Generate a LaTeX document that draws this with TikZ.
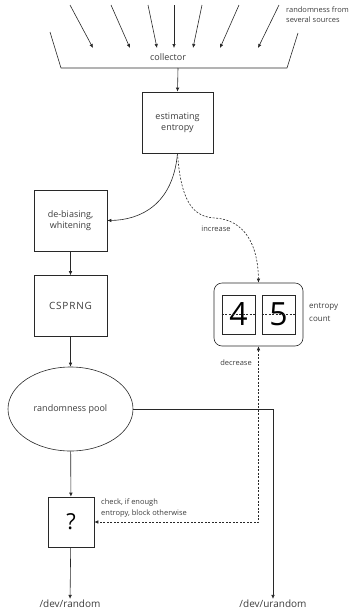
\documentclass[tikz,border=0pt]{standalone}
\usepackage{fontspec}
\setmainfont{Open Sans}
\usepackage{xcolor}
\usetikzlibrary{shapes.geometric, arrows.meta, positioning, calc}
\definecolor{inkgray}{RGB}{40, 40, 40}
\definecolor{textgray}{RGB}{60, 60, 60}

\begin{document}
\begin{tikzpicture}[
    x=1pt, y=-1pt,
    every node/.style={text=textgray, font=\fontsize{9}{11}\selectfont},
    block/.style={draw=inkgray, line width=0.6pt, align=center, inner sep=0pt},
    flow/.style={draw=inkgray, line width=0.6pt, -{Latex[length=4pt, width=3.5pt]}},
    dflow/.style={flow, dashed, dash pattern=on 2pt off 1.5pt},
    note/.style={font=\fontsize{7.5}{9.5}\selectfont, align=left, inner sep=0pt},
    digit/.style={block, minimum width=33, minimum height=39, font=\fontsize{32}{32}\selectfont, text=black}
]
    \useasboundingbox (0,0) rectangle (360,611);

    % sources into the collector
    \draw[inkgray, line width=0.6pt] (50,32) -- (61,68) -- (287,68) -- (298,33);
    \coordinate (coll) at (178,68);
    \node (collector) at (168,57) {collector};
    \foreach \sx/\ex [count=\i] in {70/93, 111/130, 148/157, 174/174, 202/193, 239/220, 279/258} {
        \coordinate (src\i) at (\sx,5);
        \coordinate (tip\i) at (\ex,48);
        \draw[flow] (src\i) -- (tip\i);
    }
    \node[note, anchor=north west] (sources) at (286,7) {randomness from\\several sources};

    % main chain
    \node[block, minimum width=71, minimum height=61] (estimate) at (177.5,122.5) {estimating\\entropy};
    \node[block, minimum width=73, minimum height=61] (debias) at (70.5,220.5) {de-biasing,\\whitening};
    \node[block, minimum width=73, minimum height=61, font=\fontsize{10}{12}\selectfont\addfontfeature{LetterSpace=8}] (csprng) at (70.5,306) {CSPRNG};
    \node[draw=inkgray, line width=0.6pt, ellipse, minimum width=125, minimum height=84, inner sep=0pt] (pool) at (70.5,409) {randomness pool};
    \node[block, minimum width=46, minimum height=50, font=\fontsize{22}{22}\selectfont, text=black] (check) at (71,522) {?};
    \node[font=\fontsize{10}{12}\selectfont, inner sep=1pt] (random) at (70,604) {/dev/random};
    \node[font=\fontsize{10}{12}\selectfont, inner sep=1pt] (urandom) at (273,604) {/dev/urandom};

    % entropy counter
    \node[block, rounded corners=8pt, minimum width=89, minimum height=63] (count) at (258.5,314.5) {};
    \node[digit] (d4) at (238.5,314.5) {4};
    \node[digit] (d5) at (278.5,314.5) {5};
    \draw[inkgray, line width=0.5pt, dashed, dash pattern=on 2pt off 1.5pt] (d4.west) -- (d4.east);
    \draw[inkgray, line width=0.5pt, dashed, dash pattern=on 2pt off 1.5pt] (d5.west) -- (d5.east);
    \node[note, anchor=west, font=\fontsize{8}{13}\selectfont] (countlabel) at (309,312) {entropy\\count};

    \draw[flow] (coll) -- (estimate.north);
    \draw[flow] (estimate.south) .. controls (173,205) and (140,220) .. (debias.east);
    \draw[flow] (debias) -- (csprng);
    \draw[flow] (csprng) -- (pool);
    \draw[flow] (pool) -- (check);
    \draw[flow] (check) -- (random);
    \draw[flow] (pool.east) -| (urandom.north);

    \draw[dflow] (estimate.south) .. controls (181,205) and (195,217) .. (215,218)
        .. controls (245,220) and (258,245) .. (count.north);
    \node[note] (inc) at (216,229) {increase};
    \draw[dflow, {Latex[length=4pt, width=3.5pt]}-{Latex[length=4pt, width=3.5pt]}] (count.south) |- (check.east);
    \node[note] (dec) at (236,363) {decrease};
    \node[note, anchor=west, font=\fontsize{7.5}{11.5}\selectfont] (checklabel) at (101,508) {check, if enough\\entropy, block otherwise};
\end{tikzpicture}
\end{document}
